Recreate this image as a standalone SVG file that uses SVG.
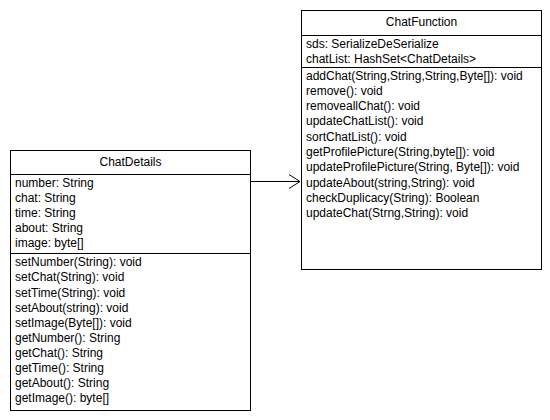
<svg xmlns="http://www.w3.org/2000/svg" width="550" height="420" viewBox="0 0 550 420">
<style>
.box{fill:#fff;stroke:#000;stroke-width:1}
.sep{stroke:#000;stroke-width:1}
text{font-family:"Liberation Sans",Arial,sans-serif;font-size:12px;fill:#000}
.t{text-anchor:middle}
.conn{fill:none;stroke:#000;stroke-width:1}
</style>
<rect width="550" height="420" fill="#fff"/>
<g id="ChatFunction">
<rect class="box" x="301.5" y="10.5" width="240" height="259"/>
<line class="sep" x1="301.5" y1="35.5" x2="541.5" y2="35.5"/>
<line class="sep" x1="301.5" y1="67.5" x2="541.5" y2="67.5"/>
<text class="t" x="421.5" y="26">ChatFunction</text>
<text x="306" y="48">sds: SerializeDeSerialize</text>
<text x="306" y="63">chatList: HashSet&lt;ChatDetails&gt;</text>
<text x="306" y="80">addChat(String,String,String,Byte[]): void</text>
<text x="306" y="95">remove(): void</text>
<text x="306" y="110">removeallChat(): void</text>
<text x="306" y="125">updateChatList(): void</text>
<text x="306" y="141">sortChatList(): void</text>
<text x="306" y="156">getProfilePicture(String,byte[]): void</text>
<text x="306" y="171">updateProfilePicture(String, Byte[]): void</text>
<text x="306" y="187">updateAbout(string,String): void</text>
<text x="306" y="202">checkDuplicacy(String): Boolean</text>
<text x="306" y="217">updateChat(Strng,String): void</text>
</g>
<g id="ChatDetails">
<rect class="box" x="10.5" y="150.5" width="240" height="260"/>
<line class="sep" x1="10.5" y1="174.5" x2="250.5" y2="174.5"/>
<line class="sep" x1="10.5" y1="253.5" x2="250.5" y2="253.5"/>
<text class="t" x="130.5" y="166">ChatDetails</text>
<text x="15" y="187">number: String</text>
<text x="15" y="202">chat: String</text>
<text x="15" y="217">time: String</text>
<text x="15" y="232">about: String</text>
<text x="15" y="247">image: byte[]</text>
<text x="15" y="266">setNumber(String): void</text>
<text x="15" y="281">setChat(String): void</text>
<text x="15" y="297">setTime(String): void</text>
<text x="15" y="312">setAbout(string): void</text>
<text x="15" y="327">setImage(Byte[]): void</text>
<text x="15" y="342">getNumber(): String</text>
<text x="15" y="357">getChat(): String</text>
<text x="15" y="372">getTime(): String</text>
<text x="15" y="387">getAbout(): String</text>
<text x="15" y="402">getImage(): byte[]</text>
</g>
<g id="connectors">
<line class="conn" x1="250.5" y1="181.5" x2="300" y2="181.5"/>
<polyline class="conn" points="289,174.5 300,181.5 289,188.5"/>
</g>
</svg>
